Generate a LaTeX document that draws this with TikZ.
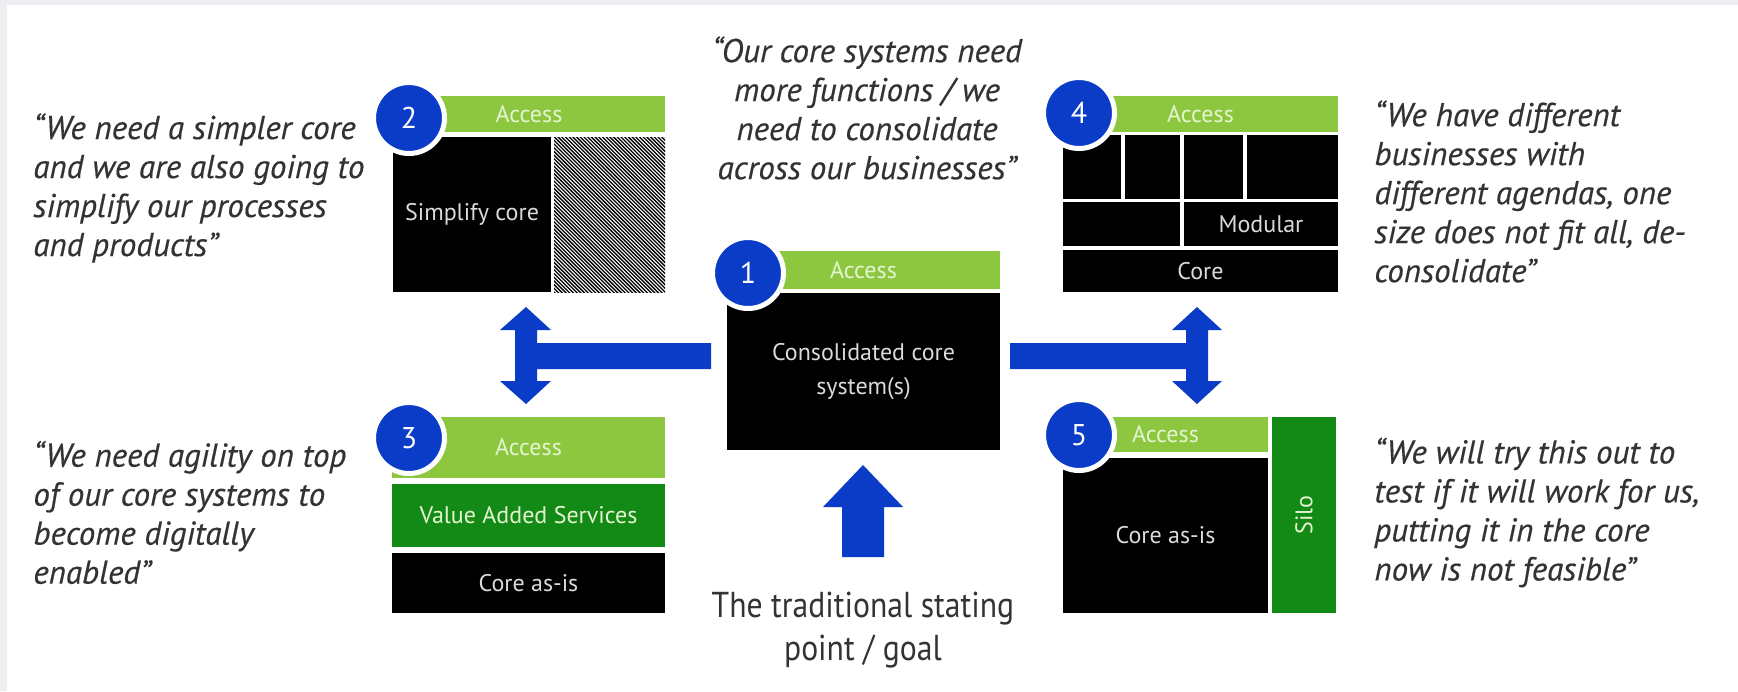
\documentclass[tikz,border=0pt]{standalone}
\usepackage{fontspec}
\setmainfont{PT Sans}
\newfontfamily\quotefont[FakeBold=0.4]{PT Sans}
\newfontfamily\narrowfont[FakeStretch=0.88]{PT Sans}

\definecolor{accessgreen}{HTML}{8DC740}
\definecolor{vasgreen}{HTML}{138A16}
\definecolor{arrowblue}{HTML}{0A3CC8}
\definecolor{quotegray}{HTML}{333333}
\definecolor{labelgray}{HTML}{DADADA}
\definecolor{accesstext}{HTML}{E4F4D0}
\definecolor{framegray}{HTML}{EDEEF2}

\begin{document}
\begin{tikzpicture}[x=0.5pt,y=-0.5pt,
  blk/.style={rectangle, inner sep=0pt, outer sep=0pt, anchor=center},
  boxfont/.style={font=\fontsize{12}{17}\selectfont},
  access/.style={blk, boxfont, fill=accessgreen, text=accesstext},
  corebox/.style={blk, boxfont, fill=black, text=labelgray, align=center},
  vasbox/.style={blk, boxfont, fill=vasgreen, text=accesstext},
  badge/.style={circle, fill=arrowblue, draw=white, line width=2.5pt,
    minimum size=35.5pt, inner sep=0pt, text=white,
    font=\fontsize{15}{15}\selectfont},
  quote/.style={inner sep=0pt, text=quotegray, align=left,
    font=\quotefont\itshape\fontsize{16.5}{19.5}\selectfont},
  blockarrow/.style={fill=arrowblue}
]
% page and frame
\useasboundingbox (0,0) rectangle (1738,691);
\fill[framegray] (0,0) rectangle (1738,691);
\fill[white] (7,5) rectangle (1738,691);

% ---------- 1: consolidated core ----------
\node[access, minimum width=136.5pt, minimum height=19pt] (acc1) at (863.5,270) {Access};
\node[corebox, minimum width=136.5pt, minimum height=78.5pt] (core1) at (863.5,371.5) {Consolidated core\\system(s)};
\node[badge] (n1) at (748,273) {1};

% ---------- 2: simplify core ----------
\node[access, minimum width=136pt, minimum height=18pt] (acc2) at (529,114) {Access};
\node[corebox, minimum width=79pt, minimum height=77.5pt] (core2) at (472,214.5) {Simplify core};
\node[blk, minimum width=55.5pt, minimum height=77.5pt] (hatch2) at (609.5,214.5) {};
\begin{scope}
  \clip (hatch2.north west) rectangle (hatch2.south east);
  \fill[white] (hatch2.north west) rectangle (hatch2.south east);
  \foreach \i in {0,...,75}
    \draw[line width=0.65pt] (394+\i*3.7,132) -- ++(165,165);
\end{scope}
\node[badge] (n2) at (409,118) {2};

% ---------- 3: value added services ----------
\node[access, minimum width=136.5pt, minimum height=30.5pt] (acc3) at (528.5,447.5) {Access};
\node[vasbox, minimum width=136.5pt, minimum height=31.5pt] (vas3) at (528.5,515.5) {Value Added Services};
\node[corebox, minimum width=136.5pt, minimum height=30pt] (core3) at (528.5,583) {Core as-is};
\node[badge] (n3) at (409,438) {3};

% ---------- 4: modular ----------
\node[access, minimum width=137.5pt, minimum height=18pt] (acc4) at (1200.5,114) {Access};
\node[corebox, minimum width=29pt, minimum height=32pt] (m1) at (1092,167) {};
\node[corebox, minimum width=27.5pt, minimum height=32pt] (m2) at (1152.5,167) {};
\node[corebox, minimum width=29.5pt, minimum height=32pt] (m3) at (1213.5,167) {};
\node[corebox, minimum width=45.5pt, minimum height=32pt] (m4) at (1292.5,167) {};
\node[corebox, minimum width=58.5pt, minimum height=22pt] (m5) at (1121.5,224) {};
\node[corebox, minimum width=77pt, minimum height=22pt] (m6) at (1261,224) {Modular};
\node[corebox, minimum width=137.5pt, minimum height=21pt] (core4) at (1200.5,271) {Core};
\node[badge] (n4) at (1079,113) {4};

% ---------- 5: silo ----------
\node[access, minimum width=102.5pt, minimum height=17.5pt] (acc5) at (1165.5,434.5) {Access};
\node[corebox, minimum width=102.5pt, minimum height=77.5pt] (core5) at (1165.5,535.5) {Core as-is};
\node[vasbox, minimum width=32pt, minimum height=98pt] (silo5) at (1304,515) {};
\node[boxfont, text=accesstext, rotate=90] (silotext) at (silo5.center) {Silo};
\node[badge] (n5) at (1079,435) {5};

% ---------- block arrows ----------
\fill[blockarrow] (526,307) -- (551,330) -- (537,330) -- (537,343) -- (711,343)
  -- (711,369) -- (537,369) -- (537,381) -- (551,381) -- (526,404)
  -- (500,381) -- (515,381) -- (515,330) -- (500,330) -- cycle;
\fill[blockarrow] (1197,307) -- (1222,330) -- (1208,330) -- (1208,381) -- (1222,381)
  -- (1197,404) -- (1172,381) -- (1186,381) -- (1186,369) -- (1010,369)
  -- (1010,343) -- (1186,343) -- (1186,330) -- (1172,330) -- cycle;
\fill[blockarrow] (863,465) -- (903,507) -- (884,507) -- (884,557) -- (842,557)
  -- (842,507) -- (823,507) -- cycle;

% ---------- statements ----------
\node[quote, anchor=west] (q2) at (33,188) {“We need a simpler core\\and we are also going to\\simplify our processes\\and products”};
\node[quote, anchor=west] (q3) at (33,512.5) {“We need agility on top\\of our core systems to\\become digitally\\enabled”};
\node[quote, align=center] (q1) at (867,108) {“Our core systems need\\more functions / we\\need to consolidate\\across our businesses”};
\node[quote, anchor=west] (q4) at (1374,191.5) {“We have different\\businesses with\\different agendas, one\\size does not fit all, de-\\consolidate”};
\node[quote, anchor=west] (q5) at (1374,512.5) {“We will try this out to\\test if it will work for us,\\putting it in the core\\now is not feasible”};
\node[inner sep=0pt, align=center, text=quotegray, font=\narrowfont\fontsize{18}{21.5}\selectfont] (start) at (863,630) {The traditional stating\\point / goal};
\end{tikzpicture}
\end{document}
